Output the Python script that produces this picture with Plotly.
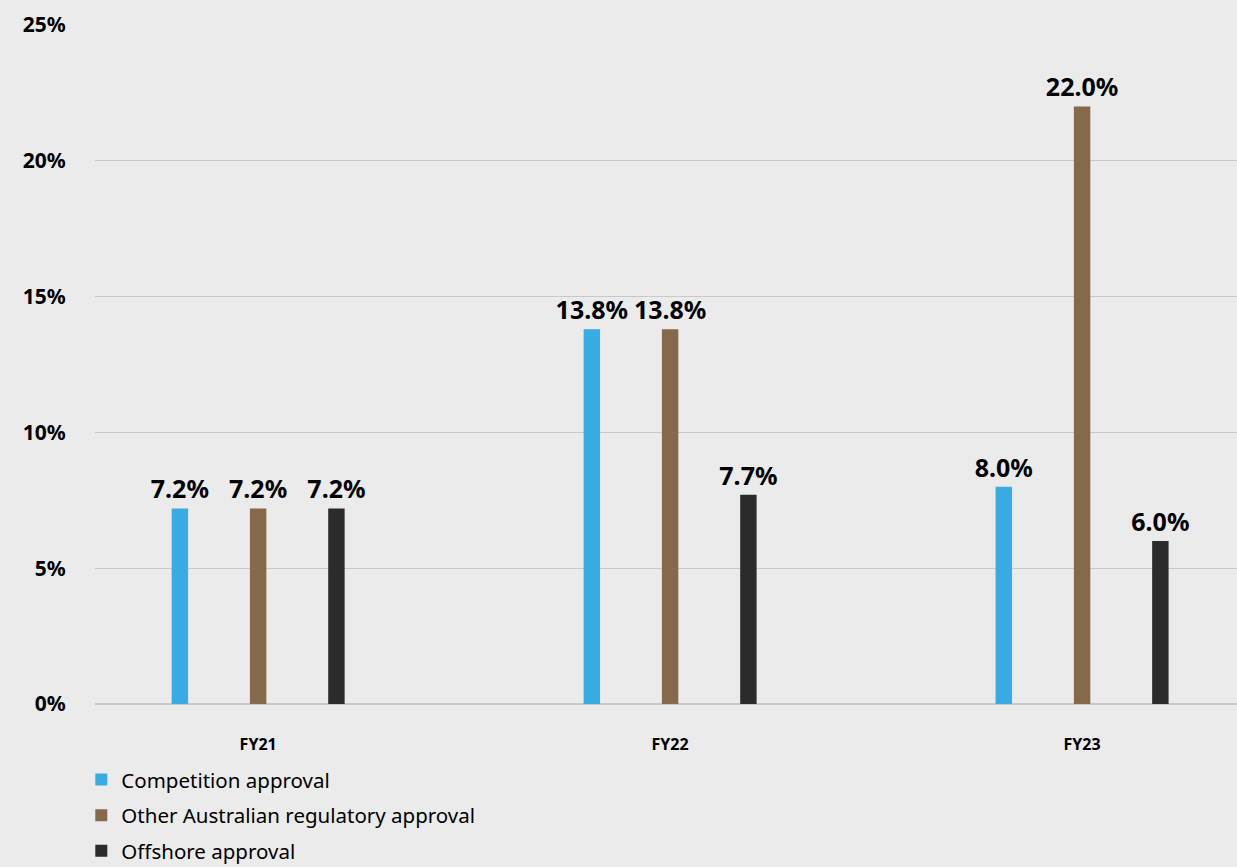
import plotly.graph_objects as go

years = ["FY21", "FY22", "FY23"]
series_names = ["Competition approval", "Other Australian regulatory approval", "Offshore approval"]
competition = [7.2, 13.8, 8.0]
other_au = [7.2, 13.8, 22.0]
offshore = [7.2, 7.7, 6.0]
y_ticks = [0, 5, 10, 15, 20, 25]
colors = ["#38ACE2", "#86694A", "#2B2B2B"]

FONT = "Noto Sans"
x_pos = list(range(len(years)))

fig = go.Figure()
for name, vals, col in zip(series_names, [competition, other_au, offshore], colors):
    fig.add_trace(go.Bar(
        x=x_pos, y=vals, name=name, legendgroup=name,
        marker=dict(color=col, line=dict(width=0)),
        text=[f"{v:.1f}%" for v in vals], textposition="outside",
        textfont=dict(family=FONT, size=25, color="#000000", weight="bold"),
        cliponaxis=False, hoverinfo="skip",
    ))

fig.update_layout(
    width=1237, height=867,
    paper_bgcolor="#EBEBEB", plot_bgcolor="#EBEBEB",
    margin=dict(l=95, r=0, t=25, b=163, autoexpand=False),
    barmode="group", bargap=0.43, bargroupgap=0.79,
    uniformtext=dict(minsize=8, mode="show"),
    showlegend=True,
    legend=dict(
        orientation="v", x=-0.012, xanchor="left", y=-0.082, yanchor="top",
        font=dict(family=FONT, size=20.5, color="#000000"),
        bgcolor="rgba(0,0,0,0)", itemsizing="constant", tracegroupgap=6,
        traceorder="grouped",
    ),
    xaxis=dict(
        range=[-0.396, 2.376], tickvals=x_pos, ticktext=years,
        showgrid=False, zeroline=False, showline=False,
        ticks="outside", ticklen=26, tickcolor="rgba(0,0,0,0)",
        tickfont=dict(family=FONT, size=16, color="#000000", weight="bold"),
        fixedrange=True,
    ),
    yaxis=dict(
        range=[0, 25], tickvals=y_ticks, ticktext=[f"{t}%" for t in y_ticks],
        showgrid=True, gridcolor="#C8C8C8", gridwidth=1,
        zeroline=True, zerolinecolor="#C8C8C8", zerolinewidth=2,
        showline=False, ticks="outside", ticklen=24, tickcolor="rgba(0,0,0,0)",
        tickfont=dict(family=FONT, size=21, color="#000000", weight="bold"),
        fixedrange=True,
    ),
)

fig.write_html("out.html")
